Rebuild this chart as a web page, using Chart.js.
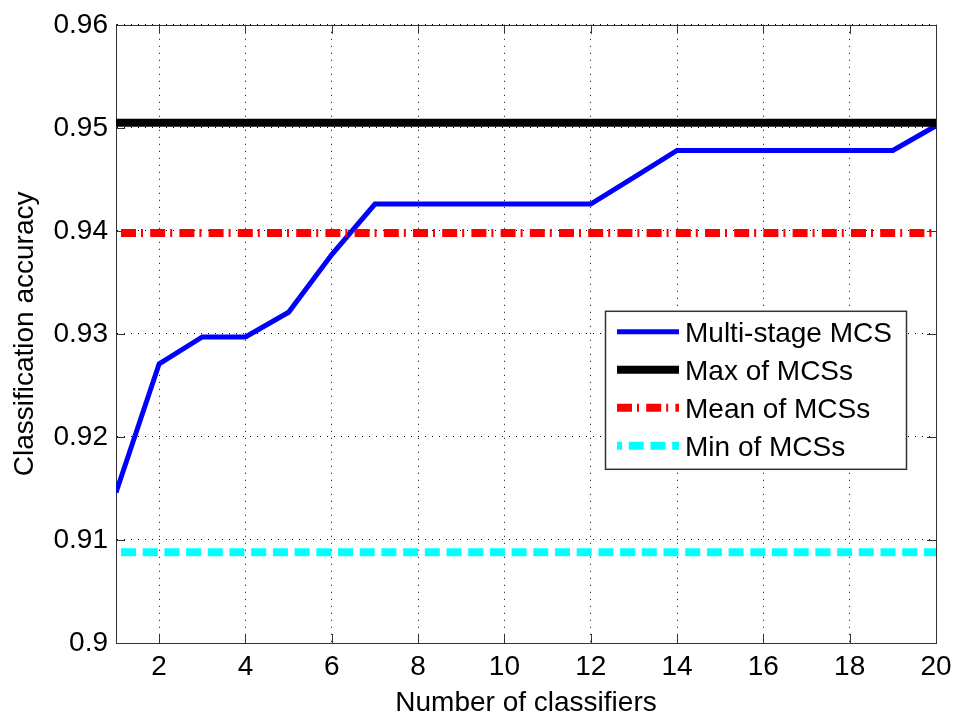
<!DOCTYPE html>
<html>
<head>
<meta charset="utf-8">
<script src="https://cdn.jsdelivr.net/npm/chart.js@4"></script>
<style>
  html, body { margin: 0; padding: 0; background: #fff; }
  #wrap { width: 956px; height: 717px; }
</style>
</head>
<body>
<div id="wrap"><canvas id="c" width="956" height="717"></canvas></div>
<script>
// Number of classifiers in the ensemble
const classifierCounts = [1, 2, 3, 4, 5, 6, 7, 8, 9, 10, 11, 12, 13, 14, 15, 16, 17, 18, 19, 20];
// Accuracy of the multi-stage MCS for each ensemble size
const multiStageAcc = [0.9146, 0.9271, 0.9297, 0.9297, 0.9321, 0.9377, 0.9426, 0.9426, 0.9426, 0.9426,
                       0.9426, 0.9426, 0.9452, 0.9478, 0.9478, 0.9478, 0.9478, 0.9478, 0.9478, 0.9502];
// Reference levels over all MCSs
const maxOfMCSs = 0.9505;
const meanOfMCSs = 0.9398;
const minOfMCSs = 0.9088;

const seriesNames = ['Multi-stage MCS', 'Max of MCSs', 'Mean of MCSs', 'Min of MCSs'];
const xTickValues = [2, 4, 6, 8, 10, 12, 14, 16, 18, 20];
const yTickValues = [0.9, 0.91, 0.92, 0.93, 0.94, 0.95, 0.96];
const yTickLabels = ['0.9', '0.91', '0.92', '0.93', '0.94', '0.95', '0.96'];

const FONT = '"Liberation Sans", Arial, Helvetica, sans-serif';
const FRAME = '#333333';

const xFirst = classifierCounts[0];
const xLast = classifierCounts[classifierCounts.length - 1];
const levelLine = v => [{ x: xFirst, y: v }, { x: xLast, y: v }];

// Box around the axes plus inward tick marks on all four sides
const framePlugin = {
  id: 'frame',
  beforeDatasetsDraw(chart) {
    const { ctx, chartArea: a, scales: { x, y } } = chart;
    ctx.save();
    ctx.strokeStyle = FRAME;
    ctx.lineWidth = 1;
    ctx.setLineDash([]);
    const tl = 9;
    ctx.beginPath();
    xTickValues.forEach(v => {
      const px = Math.round(x.getPixelForValue(v)) + 0.5;
      ctx.moveTo(px, a.bottom); ctx.lineTo(px, a.bottom - tl);
      ctx.moveTo(px, a.top); ctx.lineTo(px, a.top + tl);
    });
    yTickValues.forEach(v => {
      const py = Math.round(y.getPixelForValue(v)) + 0.5;
      ctx.moveTo(a.left, py); ctx.lineTo(a.left + tl, py);
      ctx.moveTo(a.right, py); ctx.lineTo(a.right - tl, py);
    });
    ctx.stroke();
    ctx.strokeRect(Math.round(a.left) + 0.5, Math.round(a.top) + 0.5,
                   Math.round(a.right - a.left), Math.round(a.bottom - a.top));
    ctx.restore();
  }
};

// Boxed legend inside the plot, lower right
const boxLegendPlugin = {
  id: 'boxLegend',
  afterDraw(chart) {
    const { ctx, chartArea: a } = chart;
    const bx = a.right - 331, by = a.top + 286, bw = 301, bh = 158;
    ctx.save();
    ctx.fillStyle = '#fff';
    ctx.fillRect(bx, by, bw, bh);
    ctx.strokeStyle = FRAME;
    ctx.lineWidth = 1.5;
    ctx.setLineDash([]);
    ctx.strokeRect(bx + 0.5, by + 0.5, bw, bh);
    ctx.font = '28px ' + FONT;
    ctx.textBaseline = 'middle';
    ctx.textAlign = 'left';
    chart.data.datasets.forEach((ds, i) => {
      const rowY = by + 23 + i * 38;
      const x0 = bx + 12, x1 = bx + 74;
      ctx.beginPath();
      ctx.strokeStyle = ds.borderColor;
      ctx.lineWidth = ds.borderWidth;
      ctx.setLineDash(ds.legendDash || []);
      ctx.lineDashOffset = ds.legendDashOffset || 0;
      ctx.moveTo(x0, rowY - 2);
      ctx.lineTo(x1, rowY - 2);
      ctx.stroke();
      ctx.setLineDash([]);
      ctx.fillStyle = '#000';
      ctx.fillText(ds.label, bx + 80, rowY);
    });
    ctx.restore();
  }
};

new Chart(document.getElementById('c'), {
  type: 'line',
  data: {
    datasets: [
      {
        label: seriesNames[0],
        data: classifierCounts.map((c, i) => ({ x: c, y: multiStageAcc[i] })),
        borderColor: '#0000ff', borderWidth: 5, pointRadius: 0, tension: 0, order: 4
      },
      {
        label: seriesNames[1],
        data: levelLine(maxOfMCSs),
        borderColor: '#000000', borderWidth: 8, pointRadius: 0, order: 3
      },
      {
        label: seriesNames[2],
        data: levelLine(meanOfMCSs),
        borderColor: '#ff0000', borderWidth: 8, pointRadius: 0, order: 2,
        borderDash: [15, 5, 2, 7.2], borderDashOffset: 24.2,
        legendDash: [15, 5, 2, 7.2], legendDashOffset: 0
      },
      {
        label: seriesNames[3],
        data: levelLine(minOfMCSs),
        borderColor: '#00ffff', borderWidth: 8, pointRadius: 0, order: 1,
        borderDash: [15, 6.7], borderDashOffset: 16.7,
        legendDash: [15, 6.7], legendDashOffset: 9.9
      }
    ]
  },
  options: {
    responsive: false,
    animation: false,
    devicePixelRatio: 1,
    layout: { padding: { top: 24, right: 20, left: 0, bottom: 0 } },
    plugins: { legend: { display: false }, tooltip: { enabled: false } },
    scales: {
      x: {
        type: 'linear',
        min: xFirst,
        max: xLast,
        afterBuildTicks: s => { s.ticks = xTickValues.map(v => ({ value: v })); },
        afterFit: s => { s.height = 74; s.paddingLeft = 0; s.paddingRight = 0; },
        ticks: { font: { family: FONT, size: 28 }, color: '#000', padding: 7, maxRotation: 0, autoSkip: false },
        grid: { color: '#000', lineWidth: 1, drawTicks: false },
        border: { display: true, color: FRAME, width: 1, dash: [1, 6] },
        title: {
          display: true, text: 'Number of classifiers', color: '#000',
          font: { family: FONT, size: 28, lineHeight: 1 }, padding: { top: 0, bottom: 0 }
        }
      },
      y: {
        type: 'linear',
        min: yTickValues[0],
        max: yTickValues[yTickValues.length - 1],
        afterBuildTicks: s => { s.ticks = yTickValues.map(v => ({ value: v })); },
        afterFit: s => { s.width = 116; },
        ticks: {
          font: { family: FONT, size: 28 }, color: '#000', padding: 8,
          callback: (v, i) => yTickLabels[i]
        },
        grid: { color: '#000', lineWidth: 1, drawTicks: false },
        border: { display: true, color: FRAME, width: 1, dash: [1, 6] },
        title: {
          display: true, text: 'Classification accuracy', color: '#000',
          font: { family: FONT, size: 28, lineHeight: 1 }, padding: { top: 11, bottom: 0 }
        }
      }
    }
  },
  plugins: [framePlugin, boxLegendPlugin]
});
</script>
</body>
</html>
